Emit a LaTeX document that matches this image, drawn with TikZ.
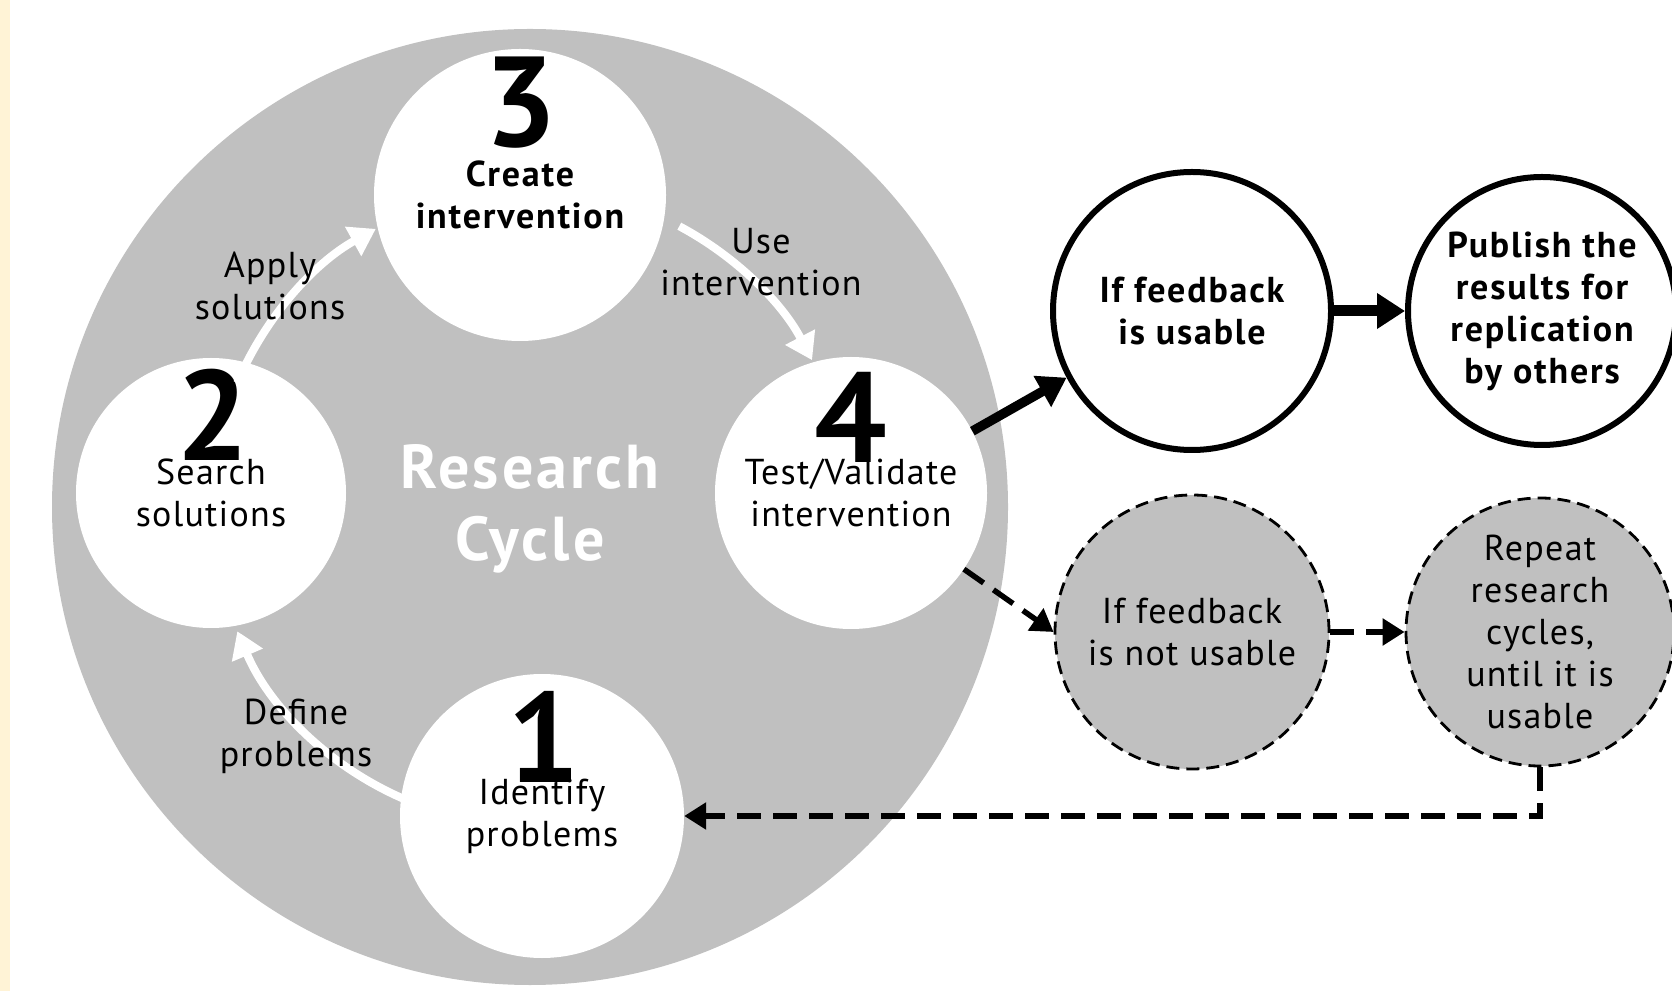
\documentclass[tikz,border=0pt]{standalone}
\usepackage{fontspec}
\setmainfont{PT Sans}[LetterSpace=3.5]
\usetikzlibrary{arrows.meta}
\definecolor{cyclegrey}{HTML}{C0C0C0}
\definecolor{cream}{HTML}{FFF3D6}

\begin{document}
\begin{tikzpicture}[x=1pt,y=1pt,
  txt/.style={font=\fontsize{36}{42}\selectfont, align=center, inner sep=0pt},
  boldtxt/.style={font=\fontsize{36}{42}\bfseries\addfontfeature{LetterSpace=5}\selectfont},
  stage/.style={circle, fill=white, minimum size=#1, inner sep=0pt, txt},
  digit/.style={font=\fontsize{128}{128}\bfseries\addfontfeature{LetterSpace=0}\selectfont, inner sep=0pt},
  edgelabel/.style={txt, fill=none},
  outcome/.style={circle, draw=black, line width=6pt, fill=white, minimum size=#1, inner sep=0pt, txt, boldtxt},
  retry/.style={circle, draw=black, line width=2.8pt, dash pattern=on 13pt off 7pt, fill=cyclegrey, minimum size=#1, inner sep=0pt, txt},
  cyclearrow/.style={draw=white, line width=8pt, -{Triangle[length=26pt,width=32pt]}},
  boldarrow/.style={draw=black, line width=#1, -{Triangle[length=28pt,width=34pt]}},
  dasharrow/.style={draw=black, line width=5.5pt, dash pattern=on 24pt off 12pt, -{Triangle[length=22pt,width=26pt]}}
]
% canvas
\useasboundingbox (0,0) rectangle (1672,991);
\fill[white] (0,0) rectangle (1672,991);
\fill[cream] (0,0) rectangle (10,991);

% the research cycle disc
\node[circle, fill=cyclegrey, minimum size=956pt, inner sep=0pt] (ring) at (530,484) {};
\node[txt, text=white, font=\fontsize{62}{72}\bfseries\addfontfeature{LetterSpace=5}\selectfont] (title) at (530,482) {Research\\Cycle};

% the four stages
\node[stage=292pt, boldtxt] (c3) at (520,796) {Create\\intervention};
\node[stage=270pt] (c2) at (211,498) {Search\\solutions};
\node[stage=272pt] (c4) at (851,498) {Test/Validate\\intervention};
\node[stage=284pt] (c1) at (542,175) {Identify\\problems};

% stage numbers
\node[digit] (n3) at (521,888) {3};
\node[digit] (n2) at (213,576) {2};
\node[digit] (n4) at (851,574) {4};
\node[digit] (n1) at (544,254) {1};

% arrows around the cycle
\coordinate (defA) at ([shift={(248:318pt)}]ring.center);
\coordinate (appA) at ([shift={(157:318pt)}]ring.center);
\coordinate (useA) at ([shift={(62:318pt)}]ring.center);
\draw[cyclearrow] (defA) arc[start angle=248, end angle=203, radius=318pt];
\draw[cyclearrow] (appA) arc[start angle=157, end angle=119, radius=318pt];
\draw[cyclearrow] (useA) arc[start angle=62, end angle=27.5, radius=318pt];

\node[edgelabel] (lapp) at (270,705) {Apply\\solutions};
\node[edgelabel] (luse) at (761,729) {Use\\intervention};
\node[edgelabel] (ldef) at (296,255) {Define\\problems};

% outcomes
\node[outcome=278pt] (U) at (1192,680) {If feedback\\is usable};
\node[outcome=268pt] (P) at (1542,680) {Publish the\\results for\\replication\\by others};
\node[retry=274pt] (N) at (1192,359) {If feedback\\is not usable};
\node[retry=268pt] (R) at (1540,359) {Repeat\\research\\cycles,\\until it is\\usable};

\draw[boldarrow=9.5pt] (c4.27) -- (U.208);
\draw[boldarrow=11pt] (U.east) -- (P.west);
\draw[dasharrow] (c4.-34) -- (N.west);
\draw[dasharrow] (N.east) -- (R.west);
\draw[dasharrow] (R.south) |- (c1.east);
\end{tikzpicture}
\end{document}
